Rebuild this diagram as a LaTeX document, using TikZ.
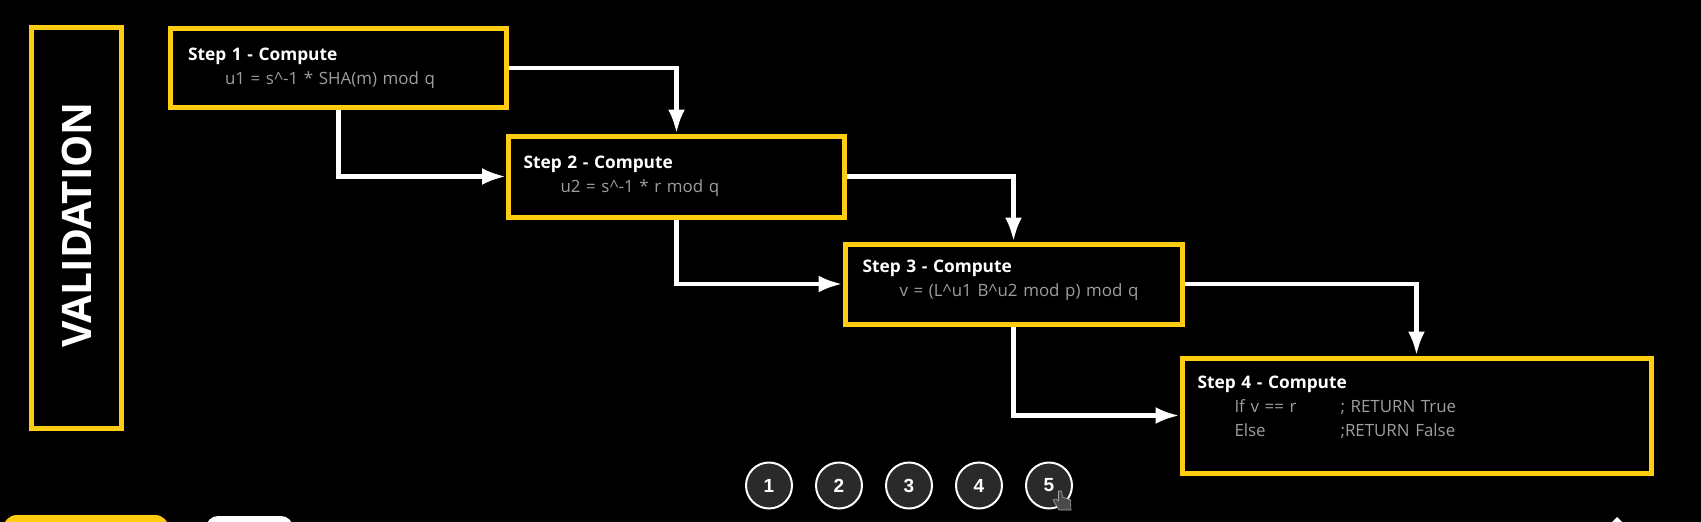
\documentclass[tikz,border=0pt]{standalone}
\usepackage{fontspec}
\setmainfont{Open Sans}
\newfontfamily\numfont{Liberation Sans}
\usetikzlibrary{arrows.meta, positioning}
\definecolor{stepyellow}{HTML}{FFCC11}
\definecolor{calcgray}{HTML}{9E9E9E}
\definecolor{dotgray}{HTML}{2A2A2A}
\definecolor{handgray}{HTML}{4A4A4A}
\newcommand{\stephead}[1]{{\fontsize{17.3}{24}\selectfont\bfseries #1}}
\newcommand{\calcline}[1]{\hspace*{37pt}{\color{calcgray}#1}}

\begin{document}
\begin{tikzpicture}[
      x=1pt, y=-1pt,
      font=\fontsize{16.9}{24}\selectfont,
      text=white,
      stepbox/.style={draw=stepyellow, line width=5pt, align=left, inner xsep=17.5pt, inner ysep=0pt, text width=301pt, minimum height=79pt},
      titlebox/.style={draw=stepyellow, line width=5pt, rotate=90, minimum width=401pt, minimum height=90pt, font=\fontsize{40.6}{41}\selectfont\bfseries},
      arrow/.style={-{Latex[length=24pt, width=17pt]}, white, line width=4.5pt},
      numdot/.style={draw=white, circle, fill=dotgray, line width=2pt, minimum size=46pt, inner sep=0pt, font=\numfont\fontsize{19}{19}\selectfont\bfseries}
    ]

    \clip (0,0) rectangle (1701,522);
    \fill[black] (0,0) rectangle (1701,522);

    \node[titlebox] (valid) at (76.5,228) {\hspace*{6pt}\raisebox{-5.8pt}{VALIDATION}};

    \node[stepbox] (step1) at (338.5,68) {\stephead{Step 1 - Compute}\\\calcline{u1 = s\^{}-1 * SHA(m) mod q}};
    \node[stepbox, below right=23.5pt and -3pt of step1, minimum height=81pt, inner xsep=15pt, text width=306pt] (step2) {\stephead{Step 2 - Compute}\\\calcline{u2 = s\^{}-1 * r mod q}};
    \node[stepbox, below right=22pt and -4.5pt of step2, minimum height=80pt, text width=302pt] (step3) {\stephead{Step 3 - Compute}\\\calcline{v = (L\^{}u1 B\^{}u2 mod p) mod q}\rule[-12pt]{0pt}{0pt}};
    \node[stepbox, below right=29pt and -5pt of step3, inner xsep=15.5pt, text width=438pt, minimum height=115pt] (step4) {\stephead{Step 4 - Compute}\\\calcline{\makebox[106pt][l]{If v == r}; RETURN True}\\\calcline{\makebox[106pt][l]{Else};RETURN False}\rule[-18pt]{0pt}{0pt}};

    \draw[arrow] (step1.east) -| (step2.north);
    \draw[arrow] (step1.south) |- (step2.west);
    \draw[arrow] (step2.east) -| (step3.north);
    \draw[arrow] (step2.south) |- (step3.west);
    \draw[arrow] (step3.east) -| (step4.north);
    \draw[arrow] (step3.south) |- (step4.west);

    \node[numdot] (num1) at (769,485.5) {1};
    \node[numdot, right=22pt of num1] (num2) {2};
    \node[numdot, right=22pt of num2] (num3) {3};
    \node[numdot, right=22pt of num3] (num4) {4};
    \node[numdot, right=22pt of num4] (num5) {5};

    % hand cursor over the last dot
    \filldraw[fill=handgray, draw=black!35!white, line width=.6pt]
      (1058.5,491) -- (1061.5,491) -- (1062.5,497) -- (1070.5,500) -- (1071,510) -- (1059,510) -- (1053,500) -- (1056,499) -- (1058.5,501) -- cycle;

    % cut off by the lower edge
    \fill[stepyellow, rounded corners=14pt] (3,540) -- (3,515) -- (169,515) -- (169,540) -- cycle;
    \fill[white, rounded corners=12pt] (206,540) -- (206,516) -- (293,516) -- (293,540) -- cycle;
    \fill[white] (1604,530) -- (1617,517) -- (1630,530) -- cycle;
    \end{tikzpicture}
\end{document}
